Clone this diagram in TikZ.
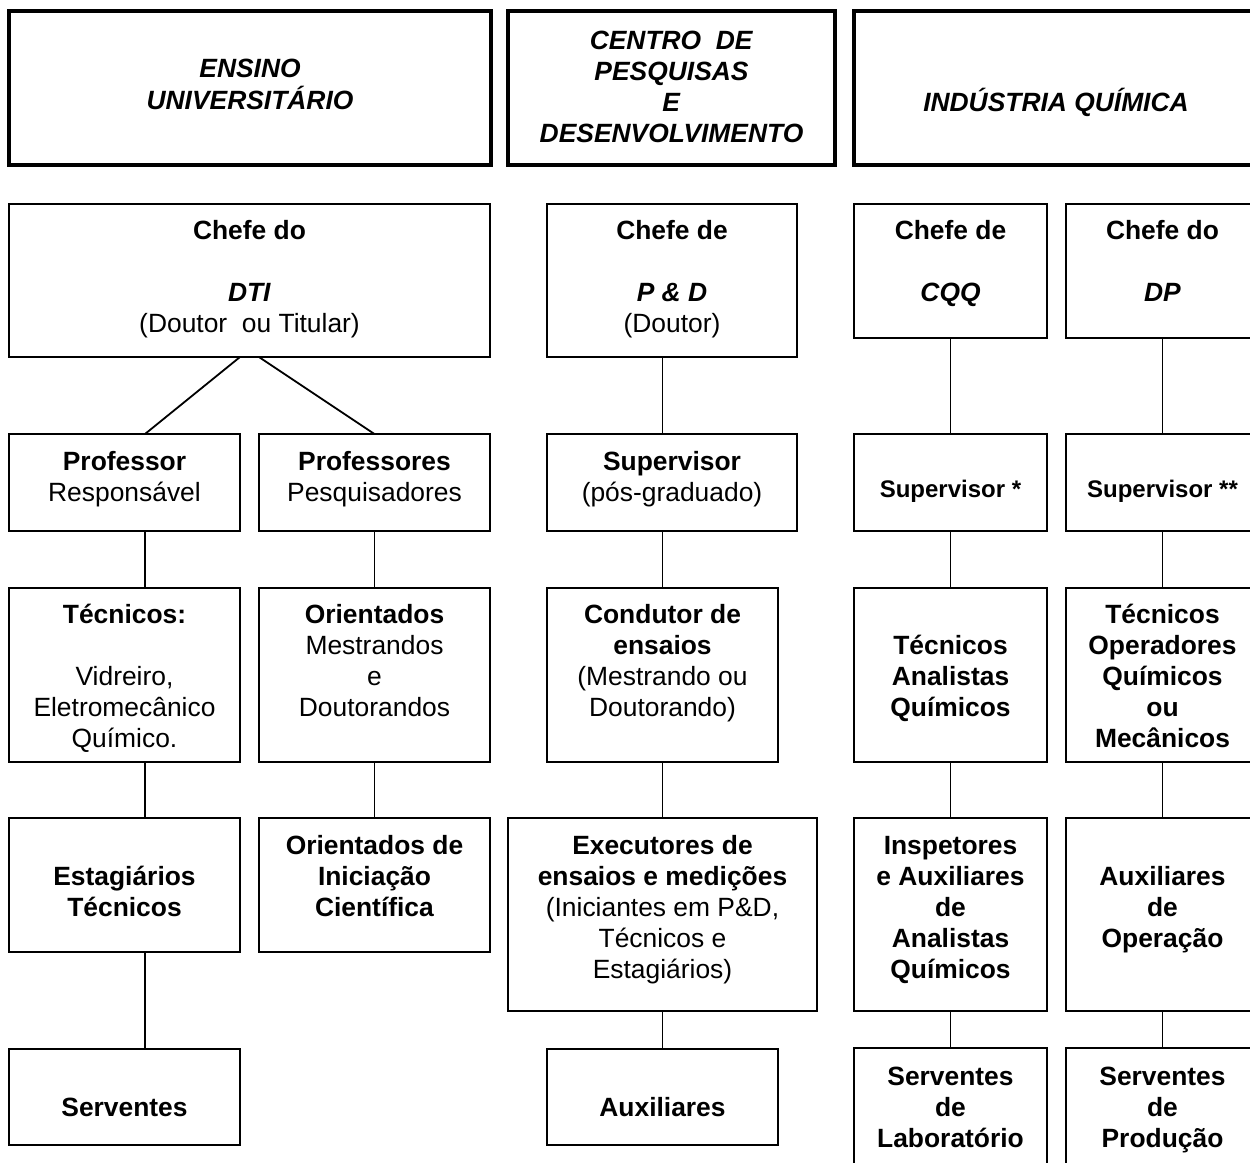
\documentclass[tikz,border=0pt]{standalone}
\usepackage{fontspec}
\setmainfont{Liberation Sans}
\usetikzlibrary{calc}
\newcommand\T[1]{\begin{tabular}{@{}c@{}}#1\end{tabular}}
\newcommand\BI[1]{\textbf{\textit{#1}}}
\tikzset{
 bbox/.style={draw, line width=1.8pt, inner sep=0pt, outer sep=0pt},
 hbox/.style={draw, line width=3.2pt, inner sep=0pt, outer sep=0pt},
 txt/.style={inner sep=0pt, outer sep=0pt, font=\fontsize{26.4}{31}\selectfont},
 conn/.style={line width=1.8pt},
}
% style, name, x1, x2, y1, y2, visual text centre, text
\newcommand\mkbox[8]{%
 \node[#1, minimum width={(#4-#3)*1pt}, minimum height={(#6-#5)*1pt}] (#2) at ({(#3+#4)/2},{(#5+#6)/2}) {};
 \node[txt] (#2-t) at ({(#3+#4)/2},{#7+3.3}) {\T{#8}};
}
\begin{document}
\begin{tikzpicture}[x=1pt,y=-1pt]
\clip (0,0) rectangle (1250,1162);
\fill[white] (0,0) rectangle (1250,1162);
% headers
\mkbox{hbox}{h1}{9}{491}{11}{165}{84}{\BI{ENSINO}\\ \BI{UNIVERSITÁRIO}}
\mkbox{hbox}{h2}{508}{835}{11}{165}{86}{\BI{CENTRO~~DE}\\ \BI{PESQUISAS}\\ \BI{E}\\ \BI{DESENVOLVIMENTO}}
\mkbox{hbox}{h3}{854}{1258}{11}{165}{101}{\BI{INDÚSTRIA QUÍMICA}}
% row 1
\mkbox{bbox}{dti}{9}{490}{204}{357}{276}{\textbf{Chefe do}\\ \\ \BI{DTI}\\ (Doutor~~ou Titular)}
\mkbox{bbox}{pd}{547}{797}{204}{357}{276}{\textbf{Chefe de}\\ \\ \BI{P \& D}\\ (Doutor)}
\mkbox{bbox}{cqq}{854}{1047}{204}{338}{261}{\textbf{Chefe de}\\ \\ \BI{CQQ}}
\mkbox{bbox}{dp}{1066}{1259}{204}{338}{261}{\textbf{Chefe do}\\ \\ \BI{DP}}
% row 2
\mkbox{bbox}{prof}{9}{240}{434}{531}{476}{\textbf{Professor}\\ Responsável}
\mkbox{bbox}{profs}{259}{490}{434}{531}{476}{\textbf{Professores}\\ Pesquisadores}
\mkbox{bbox}{sup}{547}{797}{434}{531}{476}{\textbf{Supervisor}\\ (pós-graduado)}
\mkbox{bbox}{supa}{854}{1047}{434}{531}{488}{\fontsize{24}{31}\selectfont\textbf{Supervisor *}}
\mkbox{bbox}{supb}{1066}{1259}{434}{531}{488}{\fontsize{24}{31}\selectfont\textbf{Supervisor **}}
% row 3
\mkbox{bbox}{tec}{9}{240}{588}{762}{676}{\textbf{Técnicos:}\\ \\ Vidreiro,\\ Eletromecânico\\ Químico.}
\mkbox{bbox}{ori}{259}{490}{588}{762}{660}{\textbf{Orientados}\\ Mestrandos\\ e\\ Doutorandos}
\mkbox{bbox}{cond}{547}{778}{588}{762}{660}{\textbf{Condutor de}\\ \textbf{ensaios}\\ (Mestrando ou\\ Doutorando)}
\mkbox{bbox}{ta}{854}{1047}{588}{762}{676}{\textbf{Técnicos}\\ \textbf{Analistas}\\ \textbf{Químicos}}
\mkbox{bbox}{to}{1066}{1259}{588}{762}{676}{\textbf{Técnicos}\\ \textbf{Operadores}\\ \textbf{Químicos}\\ \textbf{ou}\\ \textbf{Mecânicos}}
% row 4
\mkbox{bbox}{est}{9}{240}{818}{952}{891}{\textbf{Estagiários}\\ \textbf{Técnicos}}
\mkbox{bbox}{oic}{259}{490}{818}{952}{876}{\textbf{Orientados de}\\ \textbf{Iniciação}\\ \textbf{Científica}}
\mkbox{bbox}{exe}{508}{817}{818}{1011}{907}{\textbf{Executores de}\\ \textbf{ensaios e medições}\\ (Iniciantes em P\&D,\\ Técnicos e\\ Estagiários)}
\mkbox{bbox}{insp}{854}{1047}{818}{1011}{907}{\textbf{Inspetores}\\ \textbf{e Auxiliares}\\ \textbf{de}\\ \textbf{Analistas}\\ \textbf{Químicos}}
\mkbox{bbox}{aop}{1066}{1259}{818}{1011}{907}{\textbf{Auxiliares}\\ \textbf{de}\\ \textbf{Operação}}
% row 5
\mkbox{bbox}{serv}{9}{240}{1049}{1145}{1107}{\textbf{Serventes}}
\mkbox{bbox}{aux}{547}{778}{1049}{1145}{1107}{\textbf{Auxiliares}}
\mkbox{bbox}{slab}{854}{1047}{1048}{1185}{1107}{\textbf{Serventes}\\ \textbf{de}\\ \textbf{Laboratório}}
\mkbox{bbox}{sprod}{1066}{1259}{1048}{1185}{1107}{\textbf{Serventes}\\ \textbf{de}\\ \textbf{Produção}}
% connectors
\draw[conn] ([xshift=-9.5pt]dti.south) -- ([xshift=20.5pt]prof.north);
\draw[conn] ([xshift=9.5pt]dti.south) -- (profs.north);
\draw[conn] ([xshift=20.5pt]prof.south) -- ([xshift=20.5pt]tec.north);
\draw[conn] ([xshift=20.5pt]tec.south) -- ([xshift=20.5pt]est.north);
\draw[conn] ([xshift=20.5pt]est.south) -- ([xshift=20.5pt]serv.north);
\draw[conn] (profs.south) -- (ori.north);
\draw[conn] (ori.south) -- (oic.north);
\draw[conn] ([xshift=-9.5pt]pd.south) -- ([xshift=-9.5pt]sup.north);
\draw[conn] ([xshift=-9.5pt]sup.south) -- (cond.north);
\draw[conn] (cond.south) -- (exe.north);
\draw[conn] (exe.south) -- (aux.north);
\draw[conn] (cqq.south) -- (supa.north);
\draw[conn] (supa.south) -- (ta.north);
\draw[conn] (ta.south) -- (insp.north);
\draw[conn] (insp.south) -- (slab.north);
\draw[conn] (dp.south) -- (supb.north);
\draw[conn] (supb.south) -- (to.north);
\draw[conn] (to.south) -- (aop.north);
\draw[conn] (aop.south) -- (sprod.north);
\end{tikzpicture}
\end{document}
